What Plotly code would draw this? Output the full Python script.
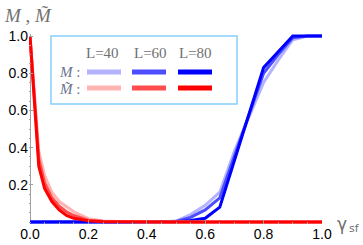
import plotly.graph_objects as go

# ---------------- data ----------------
gamma_red = [0, 0.03, 0.05, 0.075, 0.1, 0.125, 0.15, 0.2, 0.25, 0.3, 0.35, 0.4, 0.45, 0.5,
             0.55, 0.6, 0.65, 0.7, 0.75, 0.8, 0.85, 0.9, 0.95, 1.0]
mt_L40 = [1.0, 0.38, 0.25, 0.16, 0.11, 0.08, 0.055, 0.018, 0.006, 0.003, 0.001, 0, 0, 0,
          0, 0, 0, 0, 0, 0, 0, 0, 0, 0]
mt_L60 = [1.0, 0.34, 0.21, 0.13, 0.085, 0.055, 0.035, 0.01, 0.004, 0.002, 0.001, 0, 0, 0,
          0, 0, 0, 0, 0, 0, 0, 0, 0, 0]
mt_L80 = [1.0, 0.30, 0.18, 0.11, 0.065, 0.035, 0.02, 0.006, 0.002, 0.001, 0, 0, 0, 0,
          0, 0, 0, 0, 0, 0, 0, 0, 0, 0]

gamma_blue = [0, 0.05, 0.1, 0.15, 0.2, 0.25, 0.3, 0.35, 0.4, 0.45, 0.5,
              0.55, 0.6, 0.65, 0.7, 0.75, 0.8, 0.85, 0.9, 0.95, 1.0]
m_L40 = [0, 0, 0, 0, 0, 0, 0, 0, 0, 0, 0.005, 0.04, 0.09, 0.16, 0.38, 0.57, 0.75, 0.87, 0.98, 1.0, 1.0]
m_L60 = [0, 0, 0, 0, 0, 0, 0, 0, 0, 0, 0.003, 0.025, 0.065, 0.13, 0.35, 0.58, 0.80, 0.90, 0.99, 1.0, 1.0]
m_L80 = [0, 0, 0, 0, 0, 0, 0, 0, 0, 0, 0.0, 0.008, 0.02, 0.08, 0.33, 0.58, 0.83, 0.915, 1.0, 1.0, 1.0]

sizes = ["L=40", "L=60", "L=80"]
x_ticks = [0.0, 0.2, 0.4, 0.6, 0.8, 1.0]
y_ticks = [0.2, 0.4, 0.6, 0.8, 1.0]

blue_cols = ["#b3b3ff", "#4d4dff", "#0000ff"]
red_cols = ["#ffb3b3", "#ff4d4d", "#ff0000"]

# ---------------- layout geometry ----------------
W, H = 363, 245
ML, MR, MT, MB = 29, 41, 34, 21
PW, PH = W - ML - MR, H - MT - MB


def px(x):
    return (x - ML) / PW


def py(y):
    return (H - MB - y) / PH


fig = go.Figure()
for ys, c in zip([m_L40, m_L60, m_L80], blue_cols):
    fig.add_trace(go.Scatter(x=gamma_blue, y=ys, mode="lines",
                             line=dict(color=c, width=3), showlegend=False))
for ys, c in zip([mt_L40, mt_L60, mt_L80], red_cols):
    fig.add_trace(go.Scatter(x=gamma_red, y=ys, mode="lines",
                             line=dict(color=c, width=3), showlegend=False))

axcol = "#a0a0a0"
fig.update_layout(
    width=W, height=H,
    margin=dict(l=ML, r=MR, t=MT, b=MB, pad=0, autoexpand=False),
    paper_bgcolor="white", plot_bgcolor="white",
    xaxis=dict(range=[-1 / 292, 1], showgrid=False, showline=False, automargin=False,
               zeroline=True, zerolinecolor=axcol, zerolinewidth=1,
               tickvals=x_ticks, ticktext=["%.1f" % v for v in x_ticks],
               ticks="inside", ticklen=4, tickcolor=axcol,
               minor=dict(dtick=0.05, ticks="inside", ticklen=2, tickcolor=axcol, showgrid=False),
               tickfont=dict(family="Liberation Sans", size=14, color="black")),
    yaxis=dict(range=[-2 / 186, 1 + 2 / 186], showgrid=False, showline=False, automargin=False,
               zeroline=True, zerolinecolor=axcol, zerolinewidth=1,
               tickvals=y_ticks, ticktext=["%.1f" % v for v in y_ticks],
               ticks="inside", ticklen=4, tickcolor=axcol,
               minor=dict(dtick=0.05, ticks="inside", ticklen=2, tickcolor=axcol, showgrid=False),
               tickfont=dict(family="Liberation Sans", size=14, color="black")),
)

# axis titles
fig.add_annotation(xref="paper", yref="paper", x=px(2), y=py(16), xanchor="left", yanchor="middle",
                   text="<i>M</i> , <i>M\u0303</i>", showarrow=False,
                   font=dict(family="Liberation Serif", size=19, color="#707070"))
fig.add_annotation(xref="paper", yref="paper", x=px(335), y=py(224), xanchor="left", yanchor="middle",
                   text="\u03b3", showarrow=False,
                   font=dict(family="DejaVu Sans", size=17, color="#707070"))
fig.add_annotation(xref="paper", yref="paper", x=px(347), y=py(228), xanchor="left", yanchor="middle",
                   text="sf", showarrow=False,
                   font=dict(family="DejaVu Sans", size=11, color="#707070"))

# legend box
fig.add_shape(type="rect", xref="paper", yref="paper",
              x0=px(51), x1=px(237), y0=py(104), y1=py(36),
              line=dict(color="#87cefa", width=1.5), fillcolor="white", layer="above")
centers = [102, 150, 195]
for s, cx in zip(sizes, centers):
    fig.add_annotation(xref="paper", yref="paper", x=px(cx), y=py(53), xanchor="center", yanchor="middle",
                       text=s, showarrow=False,
                       font=dict(family="Liberation Serif", size=15, color="#707070"))
fig.add_annotation(xref="paper", yref="paper", x=px(57), y=py(72), xanchor="left", yanchor="middle",
                   text="<i>M</i> :", showarrow=False,
                   font=dict(family="Liberation Serif", size=15, color="#6a7590"))
fig.add_annotation(xref="paper", yref="paper", x=px(57), y=py(89), xanchor="left", yanchor="middle",
                   text="<i>M\u0303</i> :", showarrow=False,
                   font=dict(family="Liberation Serif", size=15, color="#6a7590"))
bars = [(87, 121), (132, 166), (178, 212)]
for (a, b), cb, cr in zip(bars, blue_cols, red_cols):
    fig.add_shape(type="line", xref="paper", yref="paper", x0=px(a), x1=px(b), y0=py(72), y1=py(72),
                  line=dict(color=cb, width=5), layer="above")
    fig.add_shape(type="line", xref="paper", yref="paper", x0=px(a), x1=px(b), y0=py(88), y1=py(88),
                  line=dict(color=cr, width=5), layer="above")

fig.write_html("out.html", config={"displayModeBar": False},
               post_script="document.body.style.margin='0';document.body.style.padding='0';")
